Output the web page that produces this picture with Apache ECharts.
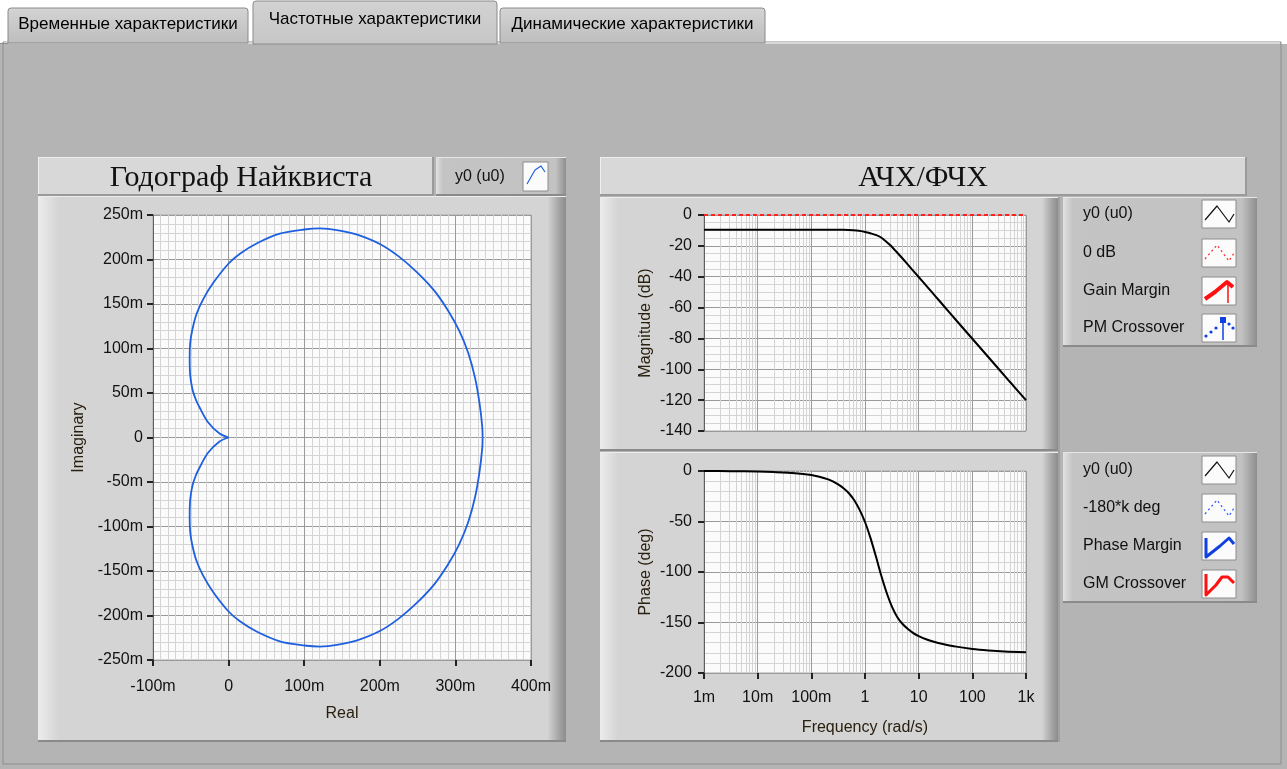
<!DOCTYPE html>
<html><head><meta charset="utf-8">
<script src="https://cdn.jsdelivr.net/npm/echarts@6/dist/echarts.min.js"></script>
<style>html,body{margin:0;padding:0;background:#b4b4b4;}#c{width:1287px;height:769px;}</style>
</head><body><div id="c"></div>
<script>
// ---------- DATA ----------
const tabLabels = ['Временные характеристики', 'Частотные характеристики', 'Динамические характеристики'];
const nyqTitle = 'Годограф Найквиста';
const bodeTitle = 'АЧХ/ФЧХ';
const nyqLegend = ['y0 (u0)'];
const magLegend = ['y0 (u0)', '0 dB', 'Gain Margin', 'PM Crossover'];
const phLegend = ['y0 (u0)', '-180*k deg', 'Phase Margin', 'GM Crossover'];

// Nyquist: upper half (origin -> DC point)
const nyqUpperRe = [0, -0.012, -0.0275, -0.0385, -0.0435, -0.0478, -0.0508, -0.0515, -0.0508, -0.048, -0.0425, -0.0335, -0.0205, 0, 0.015, 0.037, 0.0677, 0.1, 0.121, 0.147, 0.17, 0.2, 0.225, 0.25, 0.272, 0.29, 0.305, 0.317, 0.326, 0.332, 0.3355, 0.336];
const nyqUpperIm = [0, 0.0045, 0.0175, 0.034, 0.043, 0.054, 0.07, 0.09, 0.106, 0.121, 0.1385, 0.1555, 0.1735, 0.1955, 0.2065, 0.218, 0.229, 0.2337, 0.235, 0.2325, 0.228, 0.2175, 0.2035, 0.185, 0.165, 0.143, 0.12, 0.095, 0.067, 0.038, 0.012, 0];
// Nyquist: lower half (DC point -> origin)
const nyqLowerRe = [0.336, 0.3355, 0.332, 0.326, 0.317, 0.305, 0.29, 0.272, 0.25, 0.225, 0.2, 0.17, 0.147, 0.121, 0.1, 0.0677, 0.037, 0.015, 0, -0.0205, -0.0335, -0.0425, -0.048, -0.0508, -0.0515, -0.0508, -0.0478, -0.0435, -0.0385, -0.0275, -0.012, 0];
const nyqLowerIm = [0, -0.012, -0.038, -0.067, -0.095, -0.12, -0.143, -0.165, -0.185, -0.2035, -0.2175, -0.228, -0.2325, -0.235, -0.2337, -0.229, -0.218, -0.2065, -0.1955, -0.1735, -0.1555, -0.1385, -0.121, -0.106, -0.09, -0.07, -0.054, -0.043, -0.034, -0.0175, -0.0045, 0];

// Bode
const freqTickValues = [0.001, 0.01, 0.1, 1, 10, 100, 1000];
const freqTickLabels = ['1m', '10m', '100m', '1', '10', '100', '1k'];
const magFreq = [0.001, 0.01, 0.1, 0.3, 0.5, 0.7, 0.85, 1, 1.3, 1.63, 2, 2.5, 3, 3.57, 4.5, 5.9, 7.5, 10, 15, 20, 30, 50, 100, 200, 500, 1000];
const magDb = [-9.5, -9.5, -9.5, -9.55, -9.7, -10.0, -10.45, -11.0, -12.0, -13.0, -14.6, -17.3, -19.8, -22.6, -26.4, -31.0, -35.2, -40.2, -47.2, -52.2, -59.3, -68.2, -80.2, -92.2, -108.1, -120.0];
const zeroDbFreq = [0.001, 1000];
const zeroDbVal = [0, 0];
const phFreq = [0.001, 0.00316, 0.01, 0.02, 0.0501, 0.1, 0.1413, 0.1995, 0.2512, 0.3162, 0.3981, 0.5012, 0.631, 0.7943, 1, 1.259, 1.585, 1.995, 2.512, 3.162, 3.981, 5.012, 6.31, 7.943, 10, 14.13, 19.95, 28.18, 50.12, 100, 199.5, 398.1, 1000];
const phDeg = [0, -0.2, -0.6, -1.1, -2.2, -4.0, -5.7, -8.0, -10.2, -13.2, -17.0, -22.0, -29.0, -38.5, -50.5, -66, -84, -103, -120, -134, -144.5, -151.5, -156.5, -160.5, -163.5, -166.8, -169.3, -171.2, -173.9, -176.3, -177.8, -178.8, -179.5];

// ---------- BUILD ----------
const zip = (a, b) => a.map((v, i) => [v, b[i]]);
const FONT = '"Liberation Sans", Arial, sans-serif';
const SERIF = '"Liberation Serif", "Times New Roman", serif';
const chart = echarts.init(document.getElementById('c'), null, {renderer: 'canvas'});

const mFmt = v => { const r = Math.round(v * 1000); return r === 0 ? '0' : r + 'm'; };
const fFmt = v => { const i = freqTickValues.findIndex(t => Math.abs(Math.log10(t) - Math.log10(v)) < 1e-6); return i >= 0 ? freqTickLabels[i] : ''; };

const MAJOR = '#9a9a9a', MINOR = '#d4d4d4';
const lbl = {color: '#111', fontSize: 16, fontFamily: FONT};
function valAxis(o) {
  return Object.assign({
    type: 'value',
    axisLine: {show: true, onZero: false, lineStyle: {color: '#606060', width: 1}},
    axisTick: {show: true, inside: false, length: 6, lineStyle: {color: '#222', width: 2}},
    axisLabel: Object.assign({}, lbl),
    splitLine: {show: true, lineStyle: {color: MAJOR, width: 1}},
    minorTick: {show: false},
    minorSplitLine: {show: true, lineStyle: {color: MINOR, width: 1}},
    nameTextStyle: {color: '#2a2010', fontSize: 16, fontFamily: FONT},
    nameLocation: 'middle'
  }, o);
}
function logAxis(o) {
  return Object.assign({
    type: 'log', logBase: 10, min: 0.001, max: 1000,
    axisLine: {show: false, onZero: false},
    axisTick: {show: true, inside: false, length: 6, lineStyle: {color: '#222', width: 2}},
    axisLabel: Object.assign({formatter: fFmt}, lbl),
    splitLine: {show: true, lineStyle: {color: MAJOR, width: 1}},
    minorTick: {show: false, splitNumber: 9},
    minorSplitLine: {show: true, lineStyle: {color: MINOR, width: 1}},
    nameTextStyle: {color: '#2a2010', fontSize: 16, fontFamily: FONT},
    nameLocation: 'middle'
  }, o);
}

// graphic helpers
const G = [];
function rect(x, y, w, h, fill, stroke, z) { G.push({type: 'rect', silent: true, z: z == null ? -20 : z, shape: {x, y, width: w, height: h}, style: {fill, stroke: stroke || null, lineWidth: 1}}); }
function line(x1, y1, x2, y2, color, w, z) { G.push({type: 'line', silent: true, z: z == null ? -15 : z, shape: {x1, y1, x2, y2}, style: {stroke: color, lineWidth: w || 1}}); }
function text(x, y, t, font, align, fill) { G.push({type: 'text', silent: true, z: 10, x, y, style: {text: t, font, fill: fill || '#000', align: align || 'left', verticalAlign: 'middle', textAlign: align || 'left', textVerticalAlign: 'middle'}}); }
function poly(points, color, w, dash, z) { G.push({type: 'polyline', silent: true, z: z == null ? 12 : z, shape: {points}, style: {stroke: color, lineWidth: w, fill: null, lineDash: dash || null, lineJoin: 'round'}}); }
function dot(x, y, r, color) { G.push({type: 'circle', silent: true, z: 12, shape: {cx: x, cy: y, r}, style: {fill: color}}); }
const hGrad = (stops) => new echarts.graphic.LinearGradient(0, 0, 1, 0, stops.map(s => ({offset: s[0], color: s[1]})));

// top white strip + tab control
rect(0, 0, 1287, 44, '#ffffff', null, -30);
rect(3, 42, 1278, 722, '#b4b4b4', '#8e8e8e', -29);
line(4, 43, 1280, 43, '#d8d8d8', 2, -28);
// tabs
const tabBox = [[8, 8, 240, 35], [253, 1, 244, 43], [500, 8, 265, 35]];
tabBox.forEach((b, i) => {
  const active = i === 1;
  G.push({type: 'rect', silent: true, z: -25, shape: {x: b[0], y: b[1], width: b[2], height: b[3], r: [3, 3, 0, 0]},
    style: {fill: new echarts.graphic.LinearGradient(0, 0, 0, 1, [{offset: 0, color: active ? '#d2d2d2' : '#d4d4d4'}, {offset: 1, color: active ? '#c6c6c6' : '#bdbdbd'}]), stroke: '#8a8a8a', lineWidth: 1}});
  text(b[0] + b[2] / 2, b[1] + (active ? 18 : 16), tabLabels[i], '17px ' + FONT, 'center', '#000');
});
line(0, 43.5, 8, 43.5, '#8e8e8e', 1, -24);

// frame helper
function frame(x, y, w, h, base) {
  rect(x, y, w, h, hGrad([[0, '#ececec'], [0.04, base], [0.965, base], [0.985, '#a8a8a8'], [1, '#8c8c8c']]), null, -20);
  line(x, y + 0.5, x + w, y + 0.5, '#ededed', 1, -19);
  line(x, y + h - 1, x + w, y + h - 1, '#8a8a8a', 2, -19);
}
function bar(x, y, w, h) {
  rect(x, y, w, h, '#d8d8d8', null, -20);
  line(x, y + 0.5, x + w, y + 0.5, '#efefef', 1, -19);
  line(x + 0.5, y, x + 0.5, y + h, '#efefef', 1, -19);
  line(x, y + h - 1, x + w, y + h - 1, '#9a9a9a', 2, -19);
  line(x + w - 1, y, x + w - 1, y + h, '#9a9a9a', 2, -19);
}
function legendBox(x, y, w, h) {
  rect(x, y, w, h, hGrad([[0, '#e2e2e2'], [0.05, '#c4c4c4'], [0.92, '#c2c2c2'], [1, '#8e8e8e']]), null, -20);
  line(x, y + 0.5, x + w, y + 0.5, '#e6e6e6', 1, -19);
  line(x, y + h - 1, x + w, y + h - 1, '#8a8a8a', 2, -19);
}
function iconBox(x, y) { rect(x, y, 34, 28, '#fbfbfb', '#8c8c8c', 11); }

// Nyquist panel
bar(38, 157, 396, 39);
text(241, 178, nyqTitle, '30px ' + SERIF, 'center', '#111');
legendBox(436, 157, 130, 39);
text(455, 177, nyqLegend[0], '16px ' + FONT, 'left', '#111');
rect(523, 162, 25, 29, '#fbfbfb', '#8c8c8c', 11);
poly([[527, 184], [535, 170], [541, 166], [545, 172]], '#1d5fe0', 1.2);
frame(38, 196, 528, 546, '#d4d4d4');

// Bode panel
bar(600, 157, 647, 39);
text(923, 178, bodeTitle, '30px ' + SERIF, 'center', '#111');
frame(600, 197, 458, 254, '#d4d4d4');
frame(600, 452, 458, 290, '#d4d4d4');
rect(1058, 197, 4, 545, '#b4b4b4', null, -18);
line(1059, 197, 1059, 742, '#8e8e8e', 1, -17);

// legends
legendBox(1063, 197, 194, 150);
legendBox(1063, 452, 194, 151);
const magRows = [214, 253, 291, 328];
const phRows = [470, 508, 546, 584];
magRows.forEach((ry, i) => { text(1083, ry, magLegend[i], '16px ' + FONT, 'left', '#111'); iconBox(1202, ry - 14); });
phRows.forEach((ry, i) => { text(1083, ry, phLegend[i], '16px ' + FONT, 'left', '#111'); iconBox(1202, ry - 14); });
const zig = (bx, by) => [[bx + 3, by + 20], [bx + 15, by + 6], [bx + 27, by + 22], [bx + 32, by + 14]];
// mag legend icons
poly(zig(1202, magRows[0] - 14), '#111', 1.2);
poly(zig(1202, magRows[1] - 14), '#ff2020', 1.2, [2, 3]);
poly([[1205, magRows[2] + 8], [1215, magRows[2] + 1], [1227, magRows[2] - 9], [1233, magRows[2] - 4]], '#ff1010', 4);
line(1228, magRows[2] - 10, 1228, magRows[2] + 12, '#ff1010', 1.5, 12);
[[1206, 8], [1211, 4], [1216, 0], [1229, -4], [1233, 0]].forEach(p => dot(p[0], magRows[3] + p[1], 1.6, '#1040e0'));
rect(1220, magRows[3] - 11, 6, 6, '#1040e0', null, 12);
line(1223, magRows[3] - 8, 1223, magRows[3] + 12, '#1040e0', 1.5, 12);
// phase legend icons
poly(zig(1202, phRows[0] - 14), '#111', 1.2);
poly(zig(1202, phRows[1] - 14), '#2050ff', 1.2, [2, 3]);
poly([[1206, phRows[2] - 8], [1206, phRows[2] + 11], [1220, phRows[2]], [1229, phRows[2] - 8], [1234, phRows[2] - 2]], '#1040e0', 3);
poly([[1206, phRows[3] - 10], [1206, phRows[3] + 11], [1216, phRows[3] + 1], [1222, phRows[3] - 7], [1228, phRows[3] - 7], [1234, phRows[3] - 1]], '#ff1010', 3);

const option = {
  animation: false,
  backgroundColor: '#b4b4b4',
  graphic: {elements: G},
  grid: [
    {left: 153, top: 215, width: 378, height: 445, show: true, backgroundColor: '#fbfbfb', borderColor: '#a8a8a8', borderWidth: 1},
    {left: 704, top: 215, width: 322, height: 216, show: true, backgroundColor: '#fbfbfb', borderColor: '#a8a8a8', borderWidth: 1},
    {left: 704, top: 471, width: 322, height: 202, show: true, backgroundColor: '#fbfbfb', borderColor: '#a8a8a8', borderWidth: 1}
  ],
  xAxis: [
    valAxis({gridIndex: 0, min: -0.1, max: 0.4, interval: 0.1, axisLine: {show: false, onZero: false}, axisLabel: Object.assign({formatter: mFmt, margin: 19}, lbl), minorTick: {show: false, splitNumber: 10}, name: 'Real', nameGap: 46}),
    logAxis({gridIndex: 1, axisLabel: {show: false}, axisTick: {show: false}}),
    logAxis({gridIndex: 2, name: 'Frequency (rad/s)', nameGap: 47, axisLabel: Object.assign({formatter: fFmt, margin: 17}, lbl)})
  ],
  yAxis: [
    valAxis({gridIndex: 0, min: -0.25, max: 0.25, interval: 0.05, axisLabel: Object.assign({formatter: mFmt, margin: 10}, lbl), minorTick: {show: false, splitNumber: 5}, name: 'Imaginary', nameGap: 66}),
    valAxis({gridIndex: 1, min: -140, max: 0, interval: 20, axisLabel: Object.assign({margin: 12}, lbl), minorTick: {show: false, splitNumber: 4}, name: 'Magnitude (dB)', nameGap: 50}),
    valAxis({gridIndex: 2, min: -200, max: 0, interval: 50, axisLabel: Object.assign({margin: 12}, lbl), minorTick: {show: false, splitNumber: 5}, name: 'Phase (deg)', nameGap: 50})
  ],
  series: [
    {name: 'Nyquist upper', type: 'line', xAxisIndex: 0, yAxisIndex: 0, data: zip(nyqUpperRe, nyqUpperIm), showSymbol: false, smooth: 0.3, lineStyle: {color: '#1d5fe0', width: 1.8}, z: 3},
    {name: 'Nyquist lower', type: 'line', xAxisIndex: 0, yAxisIndex: 0, data: zip(nyqLowerRe, nyqLowerIm), showSymbol: false, smooth: 0.3, lineStyle: {color: '#1d5fe0', width: 1.8}, z: 3},
    {name: '0 dB', type: 'line', xAxisIndex: 1, yAxisIndex: 1, data: zip(zeroDbFreq, zeroDbVal), showSymbol: false, lineStyle: {color: '#ff2020', width: 2, type: [4, 3]}, z: 4},
    {name: 'Magnitude', type: 'line', xAxisIndex: 1, yAxisIndex: 1, data: zip(magFreq, magDb), showSymbol: false, smooth: 0.2, lineStyle: {color: '#000', width: 2}, z: 3},
    {name: 'Phase', type: 'line', xAxisIndex: 2, yAxisIndex: 2, data: zip(phFreq, phDeg), showSymbol: false, smooth: 0.3, lineStyle: {color: '#000', width: 2}, z: 3}
  ]
};
chart.setOption(option);
</script></body></html>
